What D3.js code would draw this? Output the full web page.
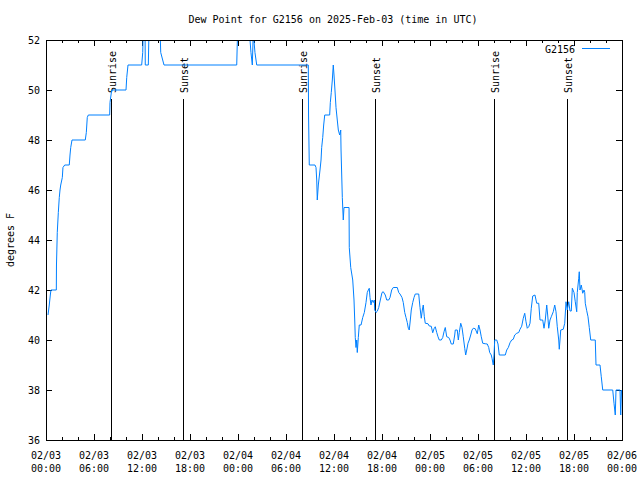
<!DOCTYPE html>
<html><head><meta charset="utf-8">
<script src="https://cdn.jsdelivr.net/npm/d3@7"></script>
<style>body{margin:0;background:#fff}svg{display:block}text{font-family:"DejaVu Sans Mono",monospace;font-size:10px;fill:#000}</style>
</head><body><svg id="c" width="640" height="480"></svg>
<script>
const title = "Dew Point for G2156 on 2025-Feb-03 (time in UTC)";
const seriesName = "G2156";
const yLabel = "degrees F";
const yTicks = [36,38,40,42,44,46,48,50,52];
// hours since 2025-02-03 00:00 UTC
const hours = [0.25,0.41,0.54,0.62,1.29,1.31,1.41,1.54,1.66,1.75,1.84,2.04,2.12,2.34,2.91,3.0,3.09,3.25,4.91,5.04,5.16,5.29,7.96,8.0,8.21,10.0,10.09,10.25,11.96,12.09,12.16,12.38,12.41,12.79,12.88,14.25,14.34,14.75,23.84,23.96,25.38,25.62,25.79,25.91,26.12,26.34,32.79,32.82,32.91,33.62,33.75,33.84,33.91,34.04,34.25,34.38,34.46,34.59,34.71,34.84,35.46,35.54,35.66,35.79,35.91,36.0,36.12,36.25,36.41,36.54,36.71,36.84,36.88,37.04,37.16,37.25,37.88,37.91,38.09,38.34,38.5,38.59,38.66,38.75,38.84,38.91,39.04,39.16,39.38,39.59,39.79,40.0,40.16,40.29,40.41,40.5,40.62,40.75,40.91,41.04,41.09,41.25,41.41,41.59,41.79,42.0,42.16,42.41,42.59,42.84,43.0,43.21,43.41,43.91,44.09,44.25,44.5,44.66,44.84,45.0,45.16,45.29,45.41,45.54,45.66,45.84,46.0,46.16,46.59,46.66,46.75,46.91,47.04,47.16,47.29,47.41,47.75,47.91,48.16,48.34,48.5,48.66,48.84,49.0,49.16,49.41,49.59,49.75,49.91,50.09,50.34,50.5,50.66,50.91,51.09,51.16,51.41,51.54,51.66,51.84,52.0,52.16,52.34,52.46,52.59,52.75,52.91,53.09,53.25,53.41,53.66,53.91,54.09,54.25,54.41,54.59,54.91,55.16,55.34,55.46,55.66,55.75,55.91,56.0,56.09,56.34,56.5,56.66,57.41,57.59,57.79,58.0,58.21,58.41,58.59,58.84,59.09,59.25,59.46,59.66,59.84,60.0,60.16,60.34,60.5,60.66,60.84,61.12,61.34,61.59,61.75,62.09,62.25,62.41,62.59,62.71,62.84,63.0,63.16,63.41,63.59,63.75,63.91,64.09,64.16,64.25,64.34,64.66,64.84,65.0,65.16,65.34,65.5,65.66,65.79,66.0,66.16,66.34,66.41,66.59,66.66,66.75,66.91,67.09,67.25,67.34,67.41,67.59,67.75,67.91,68.09,68.66,68.75,69.25,69.41,69.59,70.84,71.0,71.16,71.25,71.75,71.84,71.94];
const dewPoint = [41.0,41.4,41.8,42.0,42.0,43.0,44.3,45.1,45.7,46.0,46.2,46.5,46.9,47.0,47.0,47.4,47.7,48.0,48.0,48.3,48.9,49.0,49.0,49.5,50.0,50.0,50.5,51.0,51.0,51.5,52.5,52.5,51.0,51.0,52.5,52.5,51.5,51.0,51.0,52.5,52.5,51.5,51.0,52.3,51.5,51.0,51.0,49.0,47.0,47.0,46.9,46.4,45.6,46.2,46.8,47.2,47.7,48.1,48.6,49.0,49.0,49.5,49.9,50.4,51.0,50.6,50.0,49.3,48.8,48.4,48.2,48.4,47.6,45.7,44.8,45.3,45.3,43.7,42.9,42.4,41.6,40.8,40.1,39.7,40.0,39.5,40.1,40.6,40.6,40.9,41.1,41.5,41.9,42.0,42.07,41.7,41.4,41.6,41.5,41.6,41.2,41.1,41.15,41.3,41.6,41.9,41.93,41.8,41.6,41.6,41.7,42.0,42.1,42.1,41.9,41.84,41.7,41.5,41.1,40.9,40.7,40.47,40.4,40.8,41.2,41.5,41.7,41.84,41.84,41.6,41.3,40.87,41.2,41.4,40.93,40.67,40.65,40.56,40.55,40.29,40.45,40.53,40.3,40.13,40.0,40.0,40.1,40.33,40.5,40.13,40.1,40.0,39.84,39.84,40.2,40.4,40.4,40.0,40.3,40.67,40.5,40.13,39.67,39.4,39.6,39.87,40.0,40.2,40.4,40.47,40.45,40.25,40.6,40.4,40.13,39.87,39.85,39.84,39.7,39.5,39.4,39.27,39.0,39.4,40.0,40.0,39.84,39.4,39.4,39.6,39.7,39.89,40.0,40.03,40.2,40.27,40.3,40.43,40.55,40.87,41.07,40.73,40.47,40.53,40.67,41.27,41.76,41.8,41.47,41.47,40.8,40.8,40.47,40.8,41.4,41.0,40.47,40.8,40.93,41.13,41.4,41.13,40.53,40.0,39.63,40.0,40.4,40.43,40.67,41.53,41.2,41.53,41.16,41.16,42.07,41.9,41.53,41.13,41.9,42.47,42.73,42.0,42.2,41.87,42.0,41.9,41.47,41.17,40.93,40.5,40.0,40.0,39.0,39.0,38.53,38.0,38.0,37.47,37.0,38.0,38.0,37.0,38.0];
const sunEvents = [["Sunrise",8.12],["Sunset",17.12],["Sunrise",32.0],["Sunset",41.12],["Sunrise",56.0],["Sunset",65.12]];
const xTickHours = [0,6,12,18,24,30,36,42,48,54,60,66,72];

const t0 = Date.UTC(2025,1,3,0,0,0);
const toDate = h => new Date(t0 + h*3600e3);
const L=46,R=622,T=40,B=440;
const svg = d3.select("#c");
const x = d3.scaleUtc().domain([toDate(0),toDate(72)]).range([L,R]);
const y = d3.scaleLinear().domain([36,52]).range([B,T]);
const fmtD = d3.utcFormat("%m/%d"), fmtT = d3.utcFormat("%H:%M");
const color = "rgb(0,128,255)";

svg.append("text").attr("x",333).attr("y",23).attr("text-anchor","middle").text(title);

const g = svg.append("g");
const minor = d3.range(0,73,2).filter(h=>h%6!==0).map(toDate);
g.selectAll(".mnb").data(minor).join("line").attr("x1",d=>x(d)+0.5).attr("x2",d=>x(d)+0.5).attr("y1",B).attr("y2",B-3).attr("stroke","#000");
g.selectAll(".mnt").data(minor).join("line").attr("x1",d=>x(d)+0.5).attr("x2",d=>x(d)+0.5).attr("y1",T).attr("y2",T+3).attr("stroke","#000");
const major = xTickHours.map(toDate);
g.selectAll(".mjb").data(major).join("line").attr("x1",d=>x(d)+0.5).attr("x2",d=>x(d)+0.5).attr("y1",B).attr("y2",B-6).attr("stroke","#000");
g.selectAll(".mjt").data(major).join("line").attr("x1",d=>x(d)+0.5).attr("x2",d=>x(d)+0.5).attr("y1",T).attr("y2",T+6).attr("stroke","#000");
g.selectAll(".xl1").data(major).join("text").attr("x",d=>x(d)).attr("y",459).attr("text-anchor","middle").text(d=>fmtD(d));
g.selectAll(".xl2").data(major).join("text").attr("x",d=>x(d)).attr("y",472).attr("text-anchor","middle").text(d=>fmtT(d));
g.selectAll(".yl").data(yTicks).join("line").attr("x1",L).attr("x2",L+6).attr("y1",d=>Math.round(y(d))+0.5).attr("y2",d=>Math.round(y(d))+0.5).attr("stroke","#000");
g.selectAll(".yr").data(yTicks).join("line").attr("x1",R-6).attr("x2",R).attr("y1",d=>Math.round(y(d))+0.5).attr("y2",d=>Math.round(y(d))+0.5).attr("stroke","#000");
g.selectAll(".ytl").data(yTicks).join("text").attr("x",40).attr("y",d=>y(d)+4).attr("text-anchor","end").text(d=>d);
svg.append("text").attr("transform","translate(14,240) rotate(-90)").attr("text-anchor","middle").text(yLabel);

const sg = svg.selectAll(".sun").data(sunEvents).join("g");
sg.append("line").attr("x1",d=>Math.round(x(toDate(d[1])))+0.5).attr("x2",d=>Math.round(x(toDate(d[1])))+0.5).attr("y1",B).attr("y2",99).attr("stroke","#000");
sg.append("text").attr("transform",d=>`translate(${Math.round(x(toDate(d[1])))+5},93) rotate(-90)`).attr("text-anchor","start").text(d=>d[0]);

svg.append("clipPath").attr("id","clip").append("rect").attr("x",L).attr("y",T).attr("width",R-L).attr("height",B-T);
const pts = hours.map((h,i)=>[toDate(h),dewPoint[i]]);
svg.append("path").datum(pts).attr("clip-path","url(#clip)").attr("fill","none").attr("stroke",color).attr("stroke-width",1)
  .attr("d",d3.line().x(d=>x(d[0])).y(d=>y(d[1])));

svg.append("rect").attr("x",L+0.5).attr("y",T+0.5).attr("width",R-L).attr("height",B-T).attr("fill","none").attr("stroke","#000");

svg.append("text").attr("x",575).attr("y",53).attr("text-anchor","end").text(seriesName);
svg.append("line").attr("x1",582).attr("x2",610).attr("y1",48.5).attr("y2",48.5).attr("stroke",color);
</script></body></html>
